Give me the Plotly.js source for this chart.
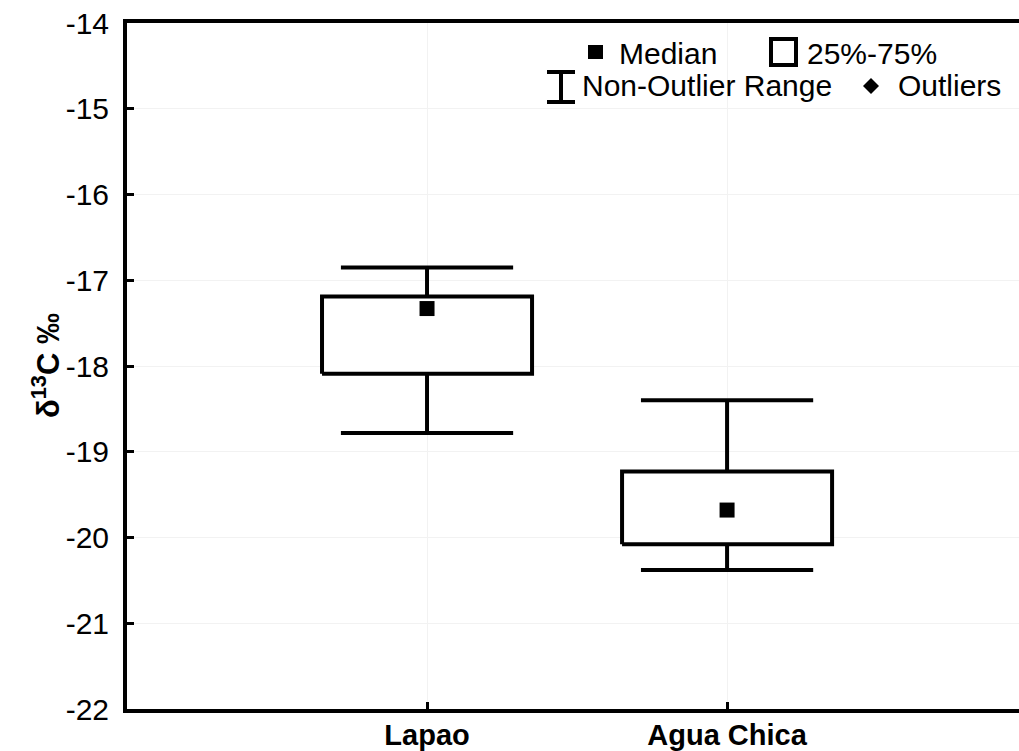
<!DOCTYPE html>
<html>
<head>
<meta charset="utf-8">
<script src="https://cdn.plot.ly/plotly-3.0.1.min.js"></script>
<style>html,body{margin:0;padding:0;background:#fff;}#chart{width:1019px;height:751px;}</style>
</head>
<body>
<div id="chart"></div>
<script>
// ---- data ----
const categories = ["Lapao", "Agua Chica"];
const positions = [1, 2];
const whiskerHigh = [-16.85, -18.40];
const q3 = [-17.19, -19.23];
const median = [-17.33, -19.68];
const q1 = [-18.09, -20.08];
const whiskerLow = [-18.78, -20.38];
const yTicks = [-22, -21, -20, -19, -18, -17, -16, -15, -14];

// ---- geometry (style) ----
const boxHalf = 0.35;
const capHalf = 0.287;
const FONT = "Liberation Sans, Arial, sans-serif";

const bx = [], by = [], wx = [], wy = [];
positions.forEach((c, i) => {
  bx.push(c - boxHalf, c + boxHalf, c + boxHalf, c - boxHalf, c - boxHalf, null);
  by.push(q1[i], q1[i], q3[i], q3[i], q1[i], null);
  wx.push(c, c, null, c - capHalf, c + capHalf, null);
  wy.push(q3[i], whiskerHigh[i], null, whiskerHigh[i], whiskerHigh[i], null);
  wx.push(c, c, null, c - capHalf, c + capHalf, null);
  wy.push(q1[i], whiskerLow[i], null, whiskerLow[i], whiskerLow[i], null);
});

const traces = [
  {x: wx, y: wy, mode: "lines", line: {color: "#000", width: 4}, hoverinfo: "skip", showlegend: false},
  {x: bx, y: by, mode: "lines", line: {color: "#000", width: 4}, fill: "toself", fillcolor: "#fff", hoverinfo: "skip", showlegend: false},
  {x: positions, y: median, mode: "markers", marker: {symbol: "square", size: 15, color: "#000"}, showlegend: false}
];

// legend placement helpers (pixel -> paper)
const L = 127, R = 1019, T = 23, B = 709;
const px = v => (v - L) / (R - L);
const py = v => (B - v) / (B - T);

const legFont = {family: FONT, size: 30, color: "#000"};
function legText(t, x, y) {
  return {text: t, x: px(x), y: py(y), xref: "paper", yref: "paper", xanchor: "left", yanchor: "middle", showarrow: false, font: legFont};
}
const annotations = [
  legText("Median", 617, 54),
  legText("25%-75%", 805, 54),
  legText("Non-Outlier Range", 580, 85),
  legText("Outliers", 896, 85),
  {text: "<b>δ<sup>13</sup>C ‰</b>", x: px(46), y: py(366), xref: "paper", yref: "paper", textangle: -90, xanchor: "center", yanchor: "middle", showarrow: false, font: {family: FONT, size: 31, color: "#000"}}
];

const shapes = [
  // median glyph
  {type: "rect", xref: "paper", yref: "paper", x0: px(588), x1: px(603), y0: py(45), y1: py(59), fillcolor: "#000", line: {width: 0}},
  // box glyph
  {type: "rect", xref: "paper", yref: "paper", x0: px(771), x1: px(796), y0: py(39), y1: py(65), line: {color: "#000", width: 4}},
  // whisker glyph
  {type: "line", xref: "paper", yref: "paper", x0: px(561), x1: px(561), y0: py(72), y1: py(102), line: {color: "#000", width: 4}},
  {type: "line", xref: "paper", yref: "paper", x0: px(547), x1: px(575), y0: py(72), y1: py(72), line: {color: "#000", width: 4}},
  {type: "line", xref: "paper", yref: "paper", x0: px(547), x1: px(575), y0: py(102), y1: py(102), line: {color: "#000", width: 4}},
  // outlier glyph (diamond)
  {type: "path", xref: "paper", yref: "paper",
   path: `M ${px(863)} ${py(86)} L ${px(871)} ${py(78)} L ${px(879)} ${py(86)} L ${px(871)} ${py(94)} Z`,
   fillcolor: "#000", line: {width: 0}}
];

const layout = {
  width: 1019, height: 751,
  margin: {l: L, r: 1019 - R, t: T, b: 751 - B, pad: 0},
  paper_bgcolor: "#fff", plot_bgcolor: "#fff",
  showlegend: false,
  xaxis: {
    range: [0, 2.973], tickvals: positions, ticktext: categories.map(c => "<b>" + c + "</b>"),
    showline: true, linecolor: "#000", linewidth: 4, mirror: true,
    ticks: "inside", ticklen: 7, tickwidth: 3, tickcolor: "#000",
    showgrid: true, gridcolor: "#f2f2f2", gridwidth: 1, zeroline: false,
    tickfont: {family: FONT, size: 29, color: "#000"}, ticklabelstandoff: -3, fixedrange: true
  },
  yaxis: {
    range: [-22, -14], tickvals: yTicks, ticktext: yTicks.map(String),
    showline: true, linecolor: "#000", linewidth: 4, mirror: false,
    ticks: "inside", ticklen: 7, tickwidth: 3, tickcolor: "#000",
    showgrid: true, gridcolor: "#f2f2f2", gridwidth: 1, zeroline: false,
    tickfont: {family: FONT, size: 30, color: "#000"}, ticklabelstandoff: 8, fixedrange: true
  },
  annotations: annotations,
  shapes: shapes
};

Plotly.newPlot("chart", traces, layout, {displayModeBar: false, staticPlot: true});
</script>
</body>
</html>
